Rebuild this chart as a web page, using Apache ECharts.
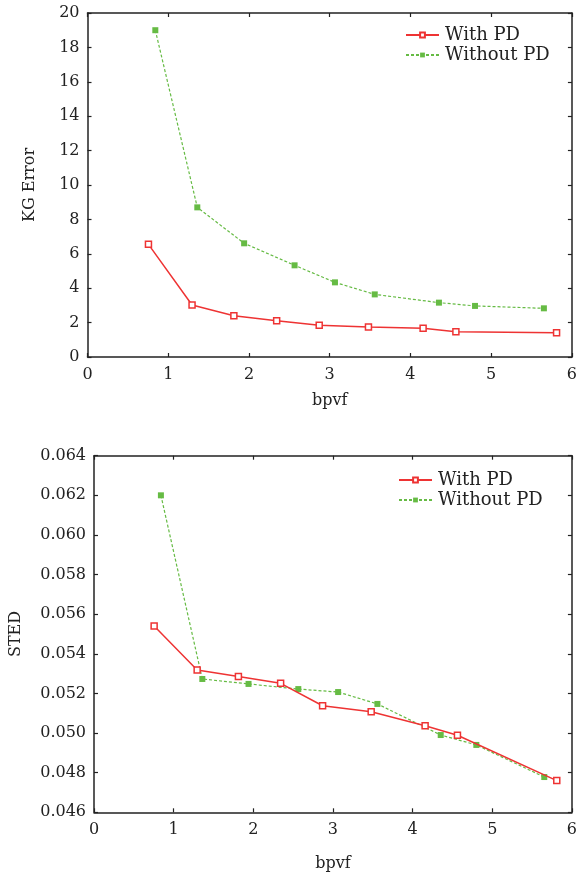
<!DOCTYPE html>
<html><head><meta charset="utf-8">
<script src="https://cdn.jsdelivr.net/npm/echarts@6/dist/echarts.min.js"></script>
<style>html,body{margin:0;padding:0;background:#fff}#c{width:580px;height:876px}</style>
</head><body><div id="c"></div>
<script>
const withPD_x = [0.755, 1.295, 1.813, 2.343, 2.87, 3.48, 4.157, 4.563, 5.81];
const withoutPD_x = [0.84, 1.36, 1.94, 2.565, 3.065, 3.558, 4.353, 4.80, 5.653];
const kgWithPD = [6.55, 3.02, 2.40, 2.11, 1.84, 1.74, 1.67, 1.47, 1.41];
const kgWithoutPD = [19.0, 8.70, 6.61, 5.33, 4.34, 3.64, 3.16, 2.97, 2.83];
const stedWithPD = [0.0554, 0.05318, 0.05285, 0.05251, 0.05138, 0.05108, 0.05037, 0.04989, 0.0476];
const stedWithoutPD = [0.0620, 0.05273, 0.05248, 0.05222, 0.05207, 0.05147, 0.0499, 0.0494, 0.04778];
const seriesNames = ['With PD', 'Without PD'];
const xName = 'bpvf';
const yNames = ['KG Error', 'STED'];

const FONT = '"DejaVu Serif", serif';
const RED = '#ee3333';
const GREEN = '#66bb44';
const AX = '#222';

function pairs(xs, ys){ return xs.map((x,i)=>[x, ys[i]]); }

function mainX(gi, gap){
  return {type:'value', gridIndex:gi, min:0, max:6, interval:1, name:xName, nameLocation:'middle', nameGap:gap,
    nameTextStyle:{fontFamily:FONT, fontSize:16, color:'#222'},
    axisLine:{show:true, onZero:false, lineStyle:{color:AX, width:1.5}},
    axisTick:{show:true, inside:true, length:4, lineStyle:{color:AX, width:1.2}},
    axisLabel:{fontFamily:FONT, fontSize:16, color:'#222', margin:10},
    splitLine:{show:false}};
}
function mirrorX(gi){
  return {type:'value', gridIndex:gi, min:0, max:6, interval:1, position:'top',
    axisLine:{show:true, onZero:false, lineStyle:{color:AX, width:1.5}},
    axisTick:{show:true, inside:true, length:4, lineStyle:{color:AX, width:1.2}},
    axisLabel:{show:false}, splitLine:{show:false}};
}
function mainY(gi, min, max, interval, name, fmt, gap){
  return {type:'value', gridIndex:gi, min:min, max:max, interval:interval, name:name, nameLocation:'middle', nameGap:gap,
    nameTextStyle:{fontFamily:FONT, fontSize:16, color:'#222'},
    axisLine:{show:true, onZero:false, lineStyle:{color:AX, width:1.5}},
    axisTick:{show:true, inside:true, length:4, lineStyle:{color:AX, width:1.2}},
    axisLabel:{fontFamily:FONT, fontSize:16, color:'#222', margin:8, formatter:fmt},
    splitLine:{show:false}};
}
function mirrorY(gi, min, max, interval){
  return {type:'value', gridIndex:gi, min:min, max:max, interval:interval, position:'right',
    axisLine:{show:true, onZero:false, lineStyle:{color:AX, width:1.5}},
    axisTick:{show:true, inside:true, length:4, lineStyle:{color:AX, width:1.2}},
    axisLabel:{show:false}, splitLine:{show:false}};
}
function redSeries(xi, yi, data){
  return {name:seriesNames[0], type:'line', xAxisIndex:xi, yAxisIndex:yi, data:data,
    symbol:'rect', symbolSize:6, showSymbol:true,
    lineStyle:{color:RED, width:1.5}, itemStyle:{color:'#fff', borderColor:RED, borderWidth:1.5},
    emphasis:{disabled:true}, animation:false, z:3};
}
function greenSeries(xi, yi, data){
  return {name:seriesNames[1], type:'line', xAxisIndex:xi, yAxisIndex:yi, data:data,
    symbol:'rect', symbolSize:6, showSymbol:true,
    lineStyle:{color:GREEN, width:1.2, type:[3,2]}, itemStyle:{color:GREEN, borderWidth:0},
    emphasis:{disabled:true}, animation:false, z:2};
}
function legend(left, top){
  return {orient:'vertical', left:left, top:top, padding:0, itemWidth:33, itemHeight:6, itemGap:0,
    data:seriesNames, textStyle:{fontFamily:FONT, fontSize:18, lineHeight:20, color:'#222', padding:[0,0,0,1]}, selectedMode:false};
}

const chart = echarts.init(document.getElementById('c'), null, {renderer:'canvas'});
chart.setOption({
  backgroundColor:'#fff',
  animation:false,
  legend:[legend(405, 25), legend(398, 470)],
  grid:[
    {left:87.5, right:4, top:13, height:344},
    {left:91.7, right:6, top:455.7, height:356.6}
  ],
  xAxis:[mainX(0, 36), mirrorX(0), mainX(1, 44), mirrorX(1)],
  yAxis:[
    mainY(0, 0, 20, 2, yNames[0], v=>String(v), 50),
    mirrorY(0, 0, 20, 2),
    mainY(1, 0.046, 0.064, 0.002, yNames[1], v=>v.toFixed(3), 70),
    mirrorY(1, 0.046, 0.064, 0.002)
  ],
  series:[
    redSeries(0, 0, pairs(withPD_x, kgWithPD)),
    greenSeries(0, 0, pairs(withoutPD_x, kgWithoutPD)),
    redSeries(2, 2, pairs(withPD_x, stedWithPD)),
    greenSeries(2, 2, pairs(withoutPD_x, stedWithoutPD))
  ]
});
</script></body></html>
